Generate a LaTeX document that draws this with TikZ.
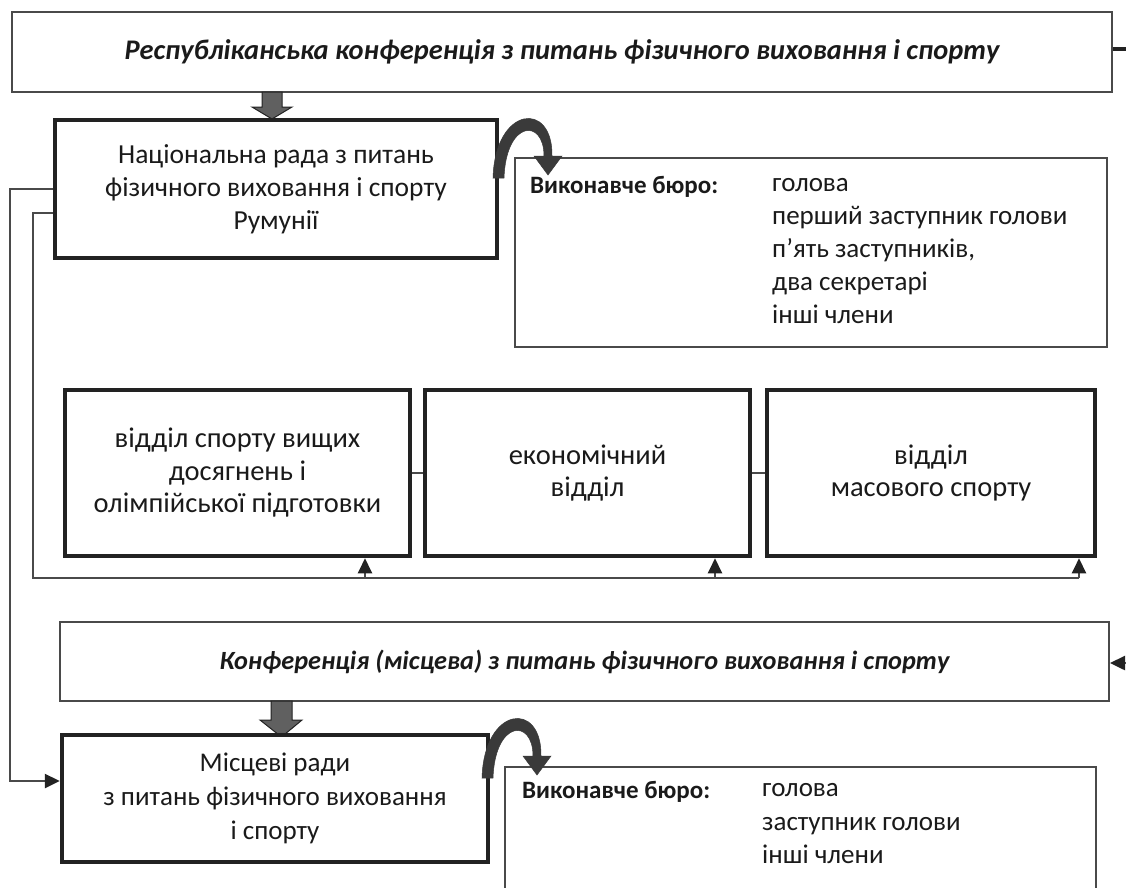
\documentclass[tikz,border=0pt]{standalone}
\usepackage{fontspec}
\setmainfont{Carlito}
\usetikzlibrary{arrows.meta}
\definecolor{linegray}{HTML}{4A4A4A}
\definecolor{darkline}{HTML}{222222}
\definecolor{arrowfill}{HTML}{606060}
\definecolor{curvecol}{HTML}{3A3A3A}
\definecolor{txt}{HTML}{1A1A1A}
\newcommand\myCurveArrow{%
  (493,178) .. controls (495,106) and (553,100) .. (552,156)
  -- (562,156) -- (548,175) -- (534,156) -- (544,156)
  .. controls (544,118) and (506,120) .. (504,178) -- cycle}
\begin{document}
\begin{tikzpicture}[x=1pt,y=-1pt,
  thinbox/.style={draw=linegray, line width=2pt, fill=white, inner sep=0pt, text=txt, align=center},
  thickbox/.style={draw=darkline, line width=4.5pt, fill=white, inner sep=0pt, text=txt, align=center,
    font=\fontsize{27.5}{33}\selectfont},
  lbl/.style={inner sep=0pt, text=txt, font=\fontsize{27}{33}\selectfont},
  head/.style={inner sep=0pt, text=txt, font=\fontsize{25}{33}\selectfont\bfseries},
  conn/.style={draw=linegray, line width=2pt},
  arrowtip/.style={-{Triangle[length=15pt,width=14pt,color=darkline]}},
  blockarrow/.style={fill=arrowfill, draw=darkline, line width=1pt},
  curved/.style={fill=curvecol, draw=curvecol, line width=0.5pt}
]
\useasboundingbox (0,0) rectangle (1126,887);
\fill[white] (0,0) rectangle (1126,887);

% top conference
\node[thinbox, minimum width=1100pt, minimum height=80pt] (rep) at (562,52)
  {\fontsize{28.4}{33}\selectfont\bfseries\itshape Республіканська конференція з питань фізичного виховання і спорту};
\coordinate (rstub) at (1126,49);
\draw[draw=darkline, line width=3.5pt] (rep.east |- rstub) -- (rstub);

% block arrow 1
\filldraw[blockarrow] (262,92) -- (282,92) -- (282,107) -- (292,107) -- (272,119) -- (252,107) -- (262,107) -- cycle;

% national council
\node[thickbox, minimum width=442pt, minimum height=138pt] (nat) at (276,189)
  {Національна рада з питань\\фізичного виховання і спорту\\Румунії};

% executive bureau 1
\node[thinbox, minimum width=592pt, minimum height=189pt] (ex1) at (811,252.5) {};
\node[head, anchor=west] (ex1h) at (530,187) {Виконавче бюро:};
\node[lbl, anchor=north west, align=left] (ex1l) at (772,178.5)
  {голова\\перший заступник голови\\п’ять заступників,\\два секретарі\\інші члени};

% curved arrow 1
\filldraw[curved] \myCurveArrow;

% departments
\node[thickbox, minimum width=345pt, minimum height=166pt, font=\fontsize{28.5}{32.5}\selectfont] (depA) at (237.5,473)
  {відділ спорту вищих\\досягнень і\\олімпійської підготовки};
\node[thickbox, minimum width=325pt, minimum height=166pt, font=\fontsize{28.5}{32.5}\selectfont] (depB) at (587.5,473)
  {економічний\\відділ};
\node[thickbox, minimum width=328pt, minimum height=166pt, font=\fontsize{28.5}{32.5}\selectfont] (depC) at (931,473)
  {відділ\\масового спорту};
\draw[conn] (depA.east) -- (depB.west);
\draw[conn] (depB.east) -- (depC.west);

% left connectors
\coordinate (busL) at (33,578);
\coordinate (busR) at (1079,578);
\draw[conn] (nat.west |- 0,213) -- (33,213) -- (busL) -- (busR);
\draw[conn, arrowtip] (365,578) -- (depA.south -| 365,0);
\draw[conn, arrowtip] (715,578) -- (depB.south -| 715,0);
\draw[conn, arrowtip] (busR) -- (depC.south -| busR);

% local conference
\node[thinbox, minimum width=1049pt, minimum height=79pt] (conf) at (584.5,661.5)
  {\fontsize{26.3}{32}\selectfont\bfseries\itshape Конференція (місцева) з питань фізичного виховання і спорту};
\coordinate (cstub) at (1126,663);
\draw[conn, line width=2.5pt, arrowtip] (cstub) -- (conf.east |- cstub);

% block arrow 2
\filldraw[blockarrow] (271,701) -- (292,701) -- (292,720) -- (302,720) -- (281.5,737) -- (260,720) -- (271,720) -- cycle;

% local councils
\node[thickbox, minimum width=426pt, minimum height=127pt, font=\fontsize{27}{34}\selectfont] (loc) at (275,798.5)
  {Місцеві ради\\з питань фізичного виховання\\і спорту};

\draw[conn, line width=2.5pt, arrowtip] (nat.west) -- (10,189) -- (10,781) -- (loc.west |- 0,781);

% executive bureau 2
\node[thinbox, minimum width=591pt, minimum height=160pt, anchor=north] (ex2) at (800.5,766) {};
\node[head, anchor=west] (ex2h) at (522,792) {Виконавче бюро:};
\node[lbl, anchor=north west, align=left, font=\fontsize{27}{33.5}\selectfont] (ex2l) at (762,783.5)
  {голова\\заступник голови\\інші члени};

% curved arrow 2
\begin{scope}[shift={(-11,600)}]
\filldraw[curved] \myCurveArrow;
\end{scope}
\end{tikzpicture}
\end{document}
